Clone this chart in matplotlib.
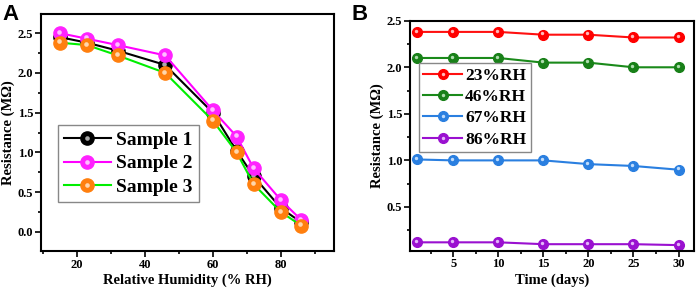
import matplotlib
matplotlib.use("Agg")
import matplotlib.pyplot as plt
import matplotlib.transforms as mtransforms
from matplotlib.ticker import MultipleLocator
from matplotlib.legend_handler import HandlerTuple

# panel A data
rh = [15, 23, 32, 46, 60, 67, 72, 80, 86]
sample1 = [2.45, 2.38, 2.28, 2.10, 1.50, 1.02, 0.70, 0.30, 0.12]
sample2 = [2.50, 2.43, 2.35, 2.22, 1.53, 1.20, 0.80, 0.40, 0.15]
sample3 = [2.38, 2.35, 2.22, 2.00, 1.40, 1.00, 0.60, 0.25, 0.08]

# panel B data
days = [1, 5, 10, 15, 20, 25, 30]
rh23 = [2.38, 2.38, 2.38, 2.35, 2.35, 2.32, 2.32]
rh46 = [2.10, 2.10, 2.10, 2.05, 2.05, 2.00, 2.00]
rh67 = [1.01, 1.00, 1.00, 1.00, 0.96, 0.94, 0.90]
rh86 = [0.12, 0.12, 0.12, 0.10, 0.10, 0.10, 0.09]

plt.rcParams["font.family"] = "Liberation Serif"
plt.rcParams["font.weight"] = "bold"

fig = plt.figure(figsize=(6.99, 2.9), dpi=100)


def sphere(ax, x, y, line_c, face_c, hi_c, ms, lw, label):
    # ball-like markers: solid circle plus a small light spot up-left
    ln, = ax.plot(x, y, "-o", color=line_c, mfc=face_c, mec=face_c, ms=ms, lw=lw, label=label)
    off = mtransforms.offset_copy(ax.transData, fig=fig, x=-1.0, y=1.3, units="dots")
    hi, = ax.plot(x, y, "o", ls="none", mfc=hi_c, mec="none", ms=ms * 0.35, transform=off, alpha=0.9)
    return (ln, hi)


def style_axes(ax):
    for s in ax.spines.values():
        s.set_linewidth(1.5)
    ax.tick_params(which="both", direction="out", labelsize=9, width=1.2, pad=1.5)
    ax.tick_params(which="major", length=4)
    ax.tick_params(which="minor", length=2.5)
    for lab in ax.get_xticklabels() + ax.get_yticklabels():
        lab.set_fontweight("bold")


# ---- panel A
ax1 = fig.add_axes([0.0587, 0.1345, 0.419, 0.817])
h1 = sphere(ax1, rh, sample1, "black", "black", "#bbbbbb", 9.5, 1.5, "Sample 1")
h2 = sphere(ax1, rh, sample2, "#ff00ff", "#ff22ff", "#ffd0ff", 9.5, 1.5, "Sample 2")
h3 = sphere(ax1, rh, sample3, "#00ee00", "#ff7f0e", "#ffe0c0", 9.5, 1.5, "Sample 3")
ax1.set_xlim(9.5, 95.6)
ax1.set_ylim(-0.24, 2.74)
ax1.xaxis.set_major_locator(MultipleLocator(20))
ax1.xaxis.set_minor_locator(MultipleLocator(10))
ax1.yaxis.set_major_locator(MultipleLocator(0.5))
ax1.yaxis.set_minor_locator(MultipleLocator(0.25))
style_axes(ax1)
ax1.set_xlabel("Relative Humidity (% RH)", fontsize=10.5, fontweight="bold", labelpad=2)
ax1.set_ylabel("Resistance (M\u03a9)", fontsize=10.5, fontweight="bold", labelpad=2)
leg1 = ax1.legend([h1, h2, h3], ["Sample 1", "Sample 2", "Sample 3"],
                  handler_map={tuple: HandlerTuple(ndivide=1)},
                  loc="upper left", bbox_to_anchor=(0.058, 0.53),
                  prop={"family": "Liberation Serif", "weight": "bold", "size": 14},
                  fancybox=False, edgecolor="#888888", framealpha=1,
                  handlelength=2.4, handletextpad=0.3, labelspacing=0.3,
                  borderpad=0.3, borderaxespad=0)
leg1.get_frame().set_linewidth(1.0)
fig.text(0.004, 0.985, "A", family="Liberation Sans", fontweight="bold", fontsize=16, va="top", ha="left")

# ---- panel B
ax2 = fig.add_axes([0.5866, 0.1355, 0.406, 0.793])
g1 = sphere(ax2, days, rh23, "#ff1010", "#ff0000", "#ffd0d0", 7, 1.5, "23%RH")
g2 = sphere(ax2, days, rh46, "#1a8a1a", "#188018", "#c0e8c0", 7, 1.5, "46%RH")
g3 = sphere(ax2, days, rh67, "#2a7fe0", "#2a7fe0", "#d0e6ff", 7, 1.5, "67%RH")
g4 = sphere(ax2, days, rh86, "#9a10d0", "#9a10d0", "#ecc8ff", 7, 1.5, "86%RH")
ax2.set_xlim(0.2, 31.7)
ax2.set_ylim(0.03, 2.5)
ax2.xaxis.set_major_locator(MultipleLocator(5))
ax2.xaxis.set_minor_locator(MultipleLocator(2.5))
ax2.yaxis.set_major_locator(MultipleLocator(0.5))
ax2.yaxis.set_minor_locator(MultipleLocator(0.25))
style_axes(ax2)
ax2.set_xlabel("Time (days)", fontsize=10.5, fontweight="bold", labelpad=2)
ax2.set_ylabel("Resistance (M\u03a9)", fontsize=10.5, fontweight="bold", labelpad=2)
leg2 = ax2.legend([g1, g2, g3, g4], ["23%RH", "46%RH", "67%RH", "86%RH"],
                  handler_map={tuple: HandlerTuple(ndivide=1)},
                  loc="upper left", bbox_to_anchor=(0.032, 0.815),
                  prop={"family": "Liberation Serif", "weight": "bold", "size": 12.5},
                  fancybox=False, edgecolor="#888888", framealpha=1,
                  handlelength=2.2, handletextpad=0.2, labelspacing=0.3,
                  borderpad=0.25, borderaxespad=0)
leg2.get_frame().set_linewidth(1.0)
fig.text(0.503, 0.985, "B", family="Liberation Sans", fontweight="bold", fontsize=16, va="top", ha="left")

fig.savefig("out.png", dpi=100)
